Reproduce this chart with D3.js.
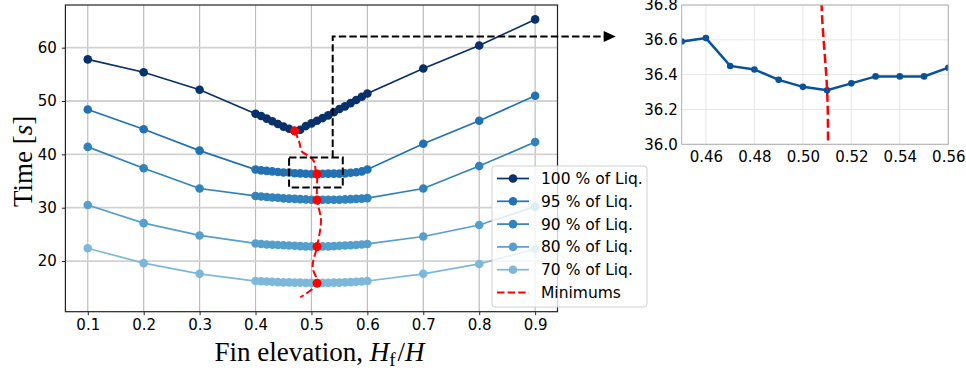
<!DOCTYPE html>
<html>
<head>
<meta charset="utf-8">
<script src="https://cdn.jsdelivr.net/npm/d3@7"></script>
<style>
body { margin: 0; background: #fff; }
svg text { font-family: 'DejaVu Sans', sans-serif; fill: #000; }
.serif { font-family: 'Liberation Serif', 'Times New Roman', serif; }
</style>
</head>
<body>
<div id="chart"></div>
<script>
// Fin elevation values (Hf/H)
var fins = [0.1, 0.2, 0.3,
    0.40, 0.41, 0.42, 0.43, 0.44, 0.45, 0.46, 0.47, 0.48, 0.49, 0.50,
    0.51, 0.52, 0.53, 0.54, 0.55, 0.56, 0.57, 0.58, 0.59, 0.60,
    0.7, 0.8, 0.9];

// Time [s] for each liquid fraction
var liq100 = [57.8, 55.4, 52.1,
    47.6, 47.2, 46.7, 46.2, 45.7, 45.2, 44.8, 44.4, 44.6, 45.3, 45.8,
    46.3, 46.8, 47.3, 47.9, 48.5, 49.0, 49.6, 50.2, 50.8, 51.4,
    56.1, 60.4, 65.3];
var liq95 = [48.4, 44.7, 40.7,
    37.15, 37.0, 36.9, 36.8, 36.7, 36.59, 36.61, 36.45, 36.43, 36.37, 36.33,
    36.31, 36.35, 36.39, 36.39, 36.39, 36.44, 36.55, 36.65, 36.8, 37.15,
    42.0, 46.3, 51.0];
var liq90 = [41.4, 37.4, 33.6,
    32.2, 32.1, 32.0, 31.9, 31.85, 31.75, 31.7, 31.65, 31.6, 31.55, 31.5,
    31.45, 31.5, 31.5, 31.5, 31.5, 31.55, 31.6, 31.65, 31.7, 31.8,
    33.6, 37.8, 42.3];
var liq80 = [30.5, 27.1, 24.8,
    23.3, 23.2, 23.1, 23.05, 23.0, 22.95, 22.9, 22.85, 22.8, 22.75, 22.75,
    22.7, 22.75, 22.75, 22.8, 22.85, 22.9, 22.95, 23.0, 23.1, 23.2,
    24.6, 26.75, 30.2];
var liq70 = [22.4, 19.6, 17.6,
    16.25, 16.2, 16.15, 16.1, 16.05, 16.0, 16.0, 15.95, 15.95, 15.9, 15.9,
    15.85, 15.9, 15.9, 15.95, 15.95, 16.0, 16.05, 16.1, 16.15, 16.25,
    17.6, 19.45, 22.25];

var seriesNames = ['100 % of Liq.', '95 % of Liq.', '90 % of Liq.', '80 % of Liq.', '70 % of Liq.'];
var seriesValues = [liq100, liq95, liq90, liq80, liq70];
var seriesColors = ['#08306b', '#2171b5', '#3182bd', '#549fcd', '#7db8da'];

// Curve through the minimums
var minCurveX = [0.47, 0.478, 0.483, 0.495, 0.505, 0.5077, 0.51, 0.5104, 0.51, 0.517, 0.51, 0.502, 0.51, 0.48];
var minCurveY = [44.4, 42.4, 40.5, 39.7, 38.6, 36.8, 36.31, 36.0, 31.45, 27.7, 22.7, 18.9, 15.85, 13.2];

// Zoomed region marked on the main chart (x0, x1, y0, y1)
var zoomBox = [0.46, 0.556, 33.8, 39.4];
var connector = [0.538, 62.1];

var xTicks = [0.1, 0.2, 0.3, 0.4, 0.5, 0.6, 0.7, 0.8, 0.9];
var yTicks = [20, 30, 40, 50, 60];
var insetXTicks = [0.46, 0.48, 0.50, 0.52, 0.54, 0.56];
var insetYTicks = [36.0, 36.2, 36.4, 36.6, 36.8];

var width = 966, height = 371;
var main = {left: 65.4, right: 557.5, top: 5, bottom: 311.7};
var inset = {left: 681.7, right: 948.3, top: 5, bottom: 144.3};

var svg = d3.select('#chart').append('svg')
    .attr('width', width)
    .attr('height', height);

var defs = svg.append('defs');
defs.append('clipPath').attr('id', 'clip-main')
    .append('rect')
    .attr('x', main.left).attr('y', main.top)
    .attr('width', main.right - main.left).attr('height', main.bottom - main.top);
defs.append('clipPath').attr('id', 'clip-inset')
    .append('rect')
    .attr('x', inset.left).attr('y', inset.top)
    .attr('width', inset.right - inset.left).attr('height', inset.bottom - inset.top);

var xScale = d3.scaleLinear().domain([0.06, 0.94]).range([main.left, main.right]);
var yScale = d3.scaleLinear().domain([10.5, 68.0]).range([main.bottom, main.top]);

///////// MAIN CHART //////////
var g = svg.append('g');

// Grid
g.append('g').selectAll('line').data(xTicks).enter().append('line')
    .attr('x1', function(d) { return xScale(d); })
    .attr('x2', function(d) { return xScale(d); })
    .attr('y1', main.top).attr('y2', main.bottom)
    .attr('stroke', '#bdbdbd').attr('stroke-width', 1.2);
g.append('g').selectAll('line').data(yTicks).enter().append('line')
    .attr('x1', main.left).attr('x2', main.right)
    .attr('y1', function(d) { return yScale(d); })
    .attr('y2', function(d) { return yScale(d); })
    .attr('stroke', '#d2d2d2').attr('stroke-width', 1.8);

// Axes
var xAxis = d3.axisBottom(xScale).tickValues(xTicks).tickSize(3.5).tickPadding(4).tickFormat(d3.format('.1f'));
var yAxis = d3.axisLeft(yScale).tickValues(yTicks).tickSize(3.5).tickPadding(5).tickFormat(d3.format('d'));

var gx = g.append('g').attr('transform', 'translate(0,' + main.bottom + ')').call(xAxis);
var gy = g.append('g').attr('transform', 'translate(' + main.left + ',0)').call(yAxis);
[gx, gy].forEach(function(a) {
    a.select('.domain').remove();
    a.selectAll('text').style('font-size', '15px').style('font-family', "'DejaVu Sans', sans-serif");
    a.selectAll('line').attr('stroke', '#222');
});

// Series lines
var line = d3.line()
    .x(function(d) { return xScale(d[0]); })
    .y(function(d) { return yScale(d[1]); });

var plot = g.append('g').attr('clip-path', 'url(#clip-main)');

seriesValues.forEach(function(vals, i) {
    var pts = fins.map(function(f, j) { return [f, vals[j]]; });
    plot.append('path')
        .attr('d', line(pts))
        .attr('fill', 'none')
        .attr('stroke', seriesColors[i])
        .attr('stroke-width', 1.7);
    plot.append('g').selectAll('circle').data(pts).enter().append('circle')
        .attr('cx', function(d) { return xScale(d[0]); })
        .attr('cy', function(d) { return yScale(d[1]); })
        .attr('r', 4.3)
        .attr('fill', seriesColors[i]);
});

// Minimums curve
var minPts = minCurveX.map(function(x, i) { return [x, minCurveY[i]]; });
var curveLine = d3.line()
    .curve(d3.curveCatmullRom)
    .x(function(d) { return xScale(d[0]); })
    .y(function(d) { return yScale(d[1]); });
plot.append('path')
    .attr('d', curveLine(minPts))
    .attr('fill', 'none')
    .attr('stroke', '#ff0000')
    .attr('stroke-width', 2)
    .attr('stroke-dasharray', '7.4,3.2');

// Red dots at the minimum of each series
var minDots = seriesValues.map(function(vals) {
    var k = d3.minIndex(vals);
    return [fins[k], vals[k]];
});
plot.append('g').selectAll('circle').data(minDots).enter().append('circle')
    .attr('cx', function(d) { return xScale(d[0]); })
    .attr('cy', function(d) { return yScale(d[1]); })
    .attr('r', 4.5)
    .attr('fill', '#ff0000');

// Frame
g.append('rect')
    .attr('x', main.left).attr('y', main.top)
    .attr('width', main.right - main.left).attr('height', main.bottom - main.top)
    .attr('fill', 'none').attr('stroke', '#222').attr('stroke-width', 1.2);

// Axis titles
g.append('text')
    .attr('class', 'serif')
    .attr('x', (main.left + main.right) / 2 + 8)
    .attr('y', 361)
    .attr('text-anchor', 'middle')
    .style('font-size', '27px')
    .html('Fin elevation, <tspan font-style="italic">H</tspan><tspan font-size="19px" dy="5">f</tspan><tspan dx="2" dy="-5">/</tspan><tspan font-style="italic">H</tspan>');

g.append('text')
    .attr('class', 'serif')
    .attr('transform', 'translate(32,' + ((main.top + main.bottom) / 2 + 3) + ') rotate(-90)')
    .attr('text-anchor', 'middle')
    .style('font-size', '27px')
    .html('Time [<tspan font-style="italic">s</tspan>]');

// Zoom box and connector arrow
g.append('rect')
    .attr('x', xScale(zoomBox[0])).attr('y', yScale(zoomBox[3]))
    .attr('width', xScale(zoomBox[1]) - xScale(zoomBox[0]))
    .attr('height', yScale(zoomBox[2]) - yScale(zoomBox[3]))
    .attr('fill', 'none').attr('stroke', '#000')
    .attr('stroke-width', 2).attr('stroke-dasharray', '7.4,3.2');

var arrowY = yScale(connector[1]);
var arrowTip = inset.left - 66;
g.append('path')
    .attr('d', 'M' + xScale(connector[0]) + ',' + yScale(zoomBox[3]) +
        'V' + arrowY + 'H' + (arrowTip - 10))
    .attr('fill', 'none').attr('stroke', '#000')
    .attr('stroke-width', 2).attr('stroke-dasharray', '7.4,3.2');
g.append('path')
    .attr('d', 'M' + (arrowTip - 12) + ',' + (arrowY - 5.5) + 'L' + arrowTip + ',' + arrowY +
        'L' + (arrowTip - 12) + ',' + (arrowY + 5.5) + 'Z')
    .attr('fill', '#000');

// Legend
var legend = g.append('g').attr('transform', 'translate(492,166)');
legend.append('rect')
    .attr('width', 155).attr('height', 141).attr('rx', 3)
    .attr('fill', '#fff').attr('fill-opacity', 0.8)
    .attr('stroke', '#d0d0d0').attr('stroke-width', 1);

var legendItems = seriesNames.concat(['Minimums']);
legendItems.forEach(function(name, i) {
    var ly = 12.5 + i * 22.8;
    var color = i < seriesColors.length ? seriesColors[i] : '#ff0000';
    var item = legend.append('g').attr('transform', 'translate(0,' + ly + ')');
    item.append('line')
        .attr('x1', 5).attr('x2', 37)
        .attr('stroke', color).attr('stroke-width', i < seriesColors.length ? 1.7 : 2)
        .attr('stroke-dasharray', i < seriesColors.length ? null : '7.4,3.2');
    if (i < seriesColors.length) {
        item.append('circle').attr('cx', 21).attr('r', 4.3).attr('fill', color);
    }
    item.append('text')
        .attr('x', 49).attr('dy', '0.35em')
        .style('font-size', '15.5px')
        .text(name);
});

///////// INSET //////////
var xi = d3.scaleLinear().domain([0.45, 0.56]).range([inset.left, inset.right]);
var yi = d3.scaleLinear().domain([36.0, 36.8]).range([inset.bottom, inset.top]);

var gi = svg.append('g');

gi.append('g').selectAll('line').data(insetXTicks).enter().append('line')
    .attr('x1', function(d) { return xi(d); })
    .attr('x2', function(d) { return xi(d); })
    .attr('y1', inset.top).attr('y2', inset.bottom)
    .attr('stroke', '#e6e6e6').attr('stroke-width', 1);
gi.append('g').selectAll('line').data(insetYTicks).enter().append('line')
    .attr('x1', inset.left).attr('x2', inset.right)
    .attr('y1', function(d) { return yi(d); })
    .attr('y2', function(d) { return yi(d); })
    .attr('stroke', '#e6e6e6').attr('stroke-width', 1);

var xiAxis = d3.axisBottom(xi).tickValues(insetXTicks).tickSize(0).tickPadding(7).tickFormat(d3.format('.2f'));
var yiAxis = d3.axisLeft(yi).tickValues(insetYTicks).tickSize(0).tickPadding(4).tickFormat(d3.format('.1f'));
var gxi = gi.append('g').attr('transform', 'translate(0,' + inset.bottom + ')').call(xiAxis);
var gyi = gi.append('g').attr('transform', 'translate(' + inset.left + ',0)').call(yiAxis);
[gxi, gyi].forEach(function(a) {
    a.select('.domain').remove();
    a.selectAll('text').style('font-size', '15px').style('font-family', "'DejaVu Sans', sans-serif");
});

var insetPlot = gi.append('g').attr('clip-path', 'url(#clip-inset)');
var lineI = d3.line()
    .x(function(d) { return xi(d[0]); })
    .y(function(d) { return yi(d[1]); });
var pts95 = fins.map(function(f, j) { return [f, liq95[j]]; });
insetPlot.append('path')
    .attr('d', lineI(pts95))
    .attr('fill', 'none').attr('stroke', '#08519c').attr('stroke-width', 2.5);
insetPlot.append('g').selectAll('circle').data(pts95).enter().append('circle')
    .attr('cx', function(d) { return xi(d[0]); })
    .attr('cy', function(d) { return yi(d[1]); })
    .attr('r', 3.3)
    .attr('fill', '#08519c');

var curveI = d3.line()
    .curve(d3.curveCatmullRom)
    .x(function(d) { return xi(d[0]); })
    .y(function(d) { return yi(d[1]); });
insetPlot.append('path')
    .attr('d', curveI(minPts))
    .attr('fill', 'none').attr('stroke', '#ff0000')
    .attr('stroke-width', 2.5).attr('stroke-dasharray', '9,4');

gi.append('rect')
    .attr('x', inset.left).attr('y', inset.top)
    .attr('width', inset.right - inset.left).attr('height', inset.bottom - inset.top)
    .attr('fill', 'none').attr('stroke', '#b0b0b0').attr('stroke-width', 1);
</script>
</body>
</html>
